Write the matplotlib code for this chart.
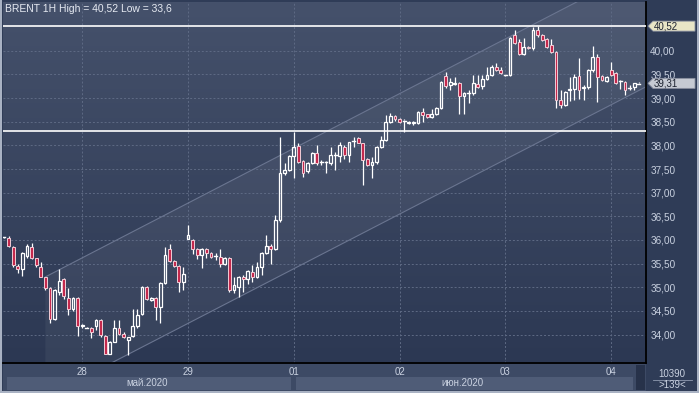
import numpy as np
import matplotlib
matplotlib.use('Agg')
import matplotlib.pyplot as plt
from matplotlib.patches import Rectangle, Polygon
from matplotlib.colors import LinearSegmentedColormap
from matplotlib.lines import Line2D

plt.rcParams['font.family'] = ['Liberation Sans', 'DejaVu Sans']

# ---------------- data (hourly candles, 139 bars) ----------------
opens = [36.06, 36.05, 35.86, 35.45, 35.38, 35.66, 35.86, 35.61, 35.43, 35.21,
         34.98, 34.34, 34.90, 35.17, 34.78, 34.55, 34.78, 34.18, 34.15, 34.15,
         34.18, 34.31, 33.97, 33.60, 33.85, 34.13, 34.02, 33.88, 33.97, 34.18,
         34.43, 35.00, 34.74, 34.78, 34.59, 35.10, 35.82, 35.56, 35.45, 35.12,
         36.03, 36.01, 35.82, 35.69, 35.80, 35.72, 35.66, 35.64, 35.50, 35.61,
         34.94, 35.01, 35.22, 35.17, 35.33, 35.22, 35.43, 35.73, 35.88, 35.82,
         36.43, 37.42, 37.48, 37.77, 37.98, 37.67, 37.46, 37.62, 37.84, 37.64,
         37.64, 37.63, 37.79, 37.77, 37.97, 37.79, 38.09, 38.15, 38.05, 37.72,
         37.58, 37.64, 37.96, 38.11, 38.50, 38.62, 38.55, 38.52, 38.48, 38.48,
         38.48, 38.71, 38.66, 38.59, 38.66, 38.78, 39.46, 39.27, 39.30, 39.32,
         39.04, 39.10, 39.10, 39.29, 39.26, 39.40, 39.48, 39.66, 39.60, 39.48,
         39.48, 40.33, 40.19, 39.93, 40.08, 40.05, 40.44, 40.33, 40.24, 40.12,
         39.98, 38.96, 38.85, 39.17, 39.20, 39.46, 39.22, 39.24, 39.59, 39.87,
         39.46, 39.36, 39.60, 39.52, 39.36, 39.34, 39.22, 39.24, 39.30]
highs = [36.07, 36.08, 35.88, 35.50, 35.75, 35.91, 35.93, 35.62, 35.53, 35.22,
         35.00, 34.96, 35.38, 35.20, 34.98, 34.80, 34.80, 34.22, 34.16, 34.16,
         34.33, 34.33, 34.00, 33.86, 34.31, 34.31, 34.05, 33.96, 34.55, 34.55,
         35.02, 35.02, 34.79, 34.80, 35.12, 35.86, 35.91, 35.58, 35.47, 35.43,
         36.31, 36.02, 35.84, 35.84, 35.84, 35.75, 35.73, 35.82, 35.63, 35.63,
         35.22, 35.24, 35.26, 35.36, 35.47, 35.54, 35.75, 36.10, 35.91, 36.52,
         38.18, 37.62, 37.80, 38.29, 38.04, 37.69, 37.64, 37.87, 38.00, 37.69,
         37.66, 37.97, 37.86, 38.07, 38.00, 38.08, 38.17, 38.18, 38.06, 37.74,
         37.75, 37.99, 38.20, 38.64, 38.69, 38.64, 38.57, 38.55, 38.52, 38.52,
         38.73, 38.78, 38.67, 38.76, 38.81, 39.36, 39.55, 39.43, 39.45, 39.34,
         39.13, 39.18, 39.48, 39.48, 39.48, 39.66, 39.69, 39.74, 39.66, 39.49,
         40.28, 40.44, 40.24, 40.26, 40.09, 40.50, 40.52, 40.35, 40.26, 40.24,
         40.00, 39.17, 39.15, 39.45, 39.50, 39.84, 39.27, 39.62, 40.10, 39.93,
         39.48, 39.46, 39.77, 39.54, 39.38, 39.36, 39.27, 39.32, 39.34]
lows = [36.05, 35.85, 35.42, 35.30, 35.24, 35.62, 35.60, 35.43, 35.21, 34.95,
        34.24, 34.30, 34.83, 34.76, 34.41, 34.50, 33.97, 34.15, 34.14, 33.92,
        34.10, 33.95, 33.58, 33.58, 33.84, 34.00, 33.92, 33.57, 33.95, 34.15,
        34.41, 34.74, 34.72, 34.31, 34.24, 35.08, 35.54, 35.43, 34.90, 34.94,
        36.02, 35.71, 35.60, 35.40, 35.61, 35.61, 35.57, 35.43, 35.48, 34.90,
        34.87, 34.80, 34.90, 35.08, 35.11, 35.20, 35.26, 35.71, 35.50, 35.78,
        36.38, 37.38, 37.45, 37.30, 37.63, 37.34, 37.41, 37.60, 37.58, 37.58,
        37.42, 37.58, 37.48, 37.65, 37.72, 37.65, 37.97, 38.04, 37.17, 37.56,
        37.30, 37.60, 37.95, 38.10, 38.48, 38.52, 38.47, 38.28, 38.46, 38.44,
        38.46, 38.50, 38.57, 38.57, 38.64, 38.76, 39.22, 39.18, 39.28, 38.67,
        38.67, 38.90, 39.06, 39.22, 39.20, 39.38, 39.46, 39.58, 39.50, 39.47,
        39.46, 40.15, 39.91, 39.90, 40.03, 40.02, 40.30, 40.20, 40.05, 39.96,
        38.78, 38.80, 38.83, 38.94, 38.96, 38.98, 38.96, 39.20, 39.55, 38.92,
        39.36, 39.34, 39.46, 39.30, 39.20, 39.06, 39.18, 39.18, 39.29]
closes = [36.06, 35.87, 35.47, 35.38, 35.72, 35.87, 35.62, 35.47, 35.22, 34.98,
          34.32, 34.94, 35.14, 34.81, 34.55, 34.78, 34.18, 34.20, 34.15, 34.05,
          34.31, 34.00, 33.60, 33.85, 34.13, 34.02, 33.94, 33.94, 34.18, 34.41,
          35.00, 34.76, 34.78, 34.59, 35.10, 35.68, 35.56, 35.45, 35.12, 35.28,
          36.10, 35.82, 35.69, 35.80, 35.73, 35.64, 35.67, 35.50, 35.61, 34.94,
          35.04, 35.22, 35.17, 35.35, 35.21, 35.43, 35.73, 35.88, 35.82, 36.43,
          37.42, 37.48, 37.77, 37.96, 37.65, 37.41, 37.62, 37.84, 37.63, 37.65,
          37.64, 37.79, 37.80, 38.00, 37.79, 38.07, 38.10, 38.05, 37.70, 37.58,
          37.64, 37.97, 38.11, 38.50, 38.62, 38.55, 38.50, 38.53, 38.50, 38.50,
          38.71, 38.64, 38.59, 38.66, 38.78, 39.34, 39.25, 39.34, 39.32, 39.04,
          39.10, 39.10, 39.31, 39.24, 39.40, 39.48, 39.66, 39.60, 39.53, 39.48,
          40.26, 40.17, 39.94, 40.08, 40.05, 40.44, 40.33, 40.22, 40.08, 39.98,
          38.96, 38.85, 39.13, 39.20, 39.44, 39.18, 39.24, 39.59, 39.87, 39.45,
          39.39, 39.44, 39.48, 39.32, 39.37, 39.18, 39.22, 39.31, 39.31]

day_tick_bars = [17, 40, 63, 86, 109, 132]
day_labels = ['28', '29', '01', '02', '03', '04']
month_labels = ['май.2020', 'июн.2020']
month_spans = [(-0.2, 62.5), (62.5, 136.8)]
y_ticks = [34.0, 34.5, 35.0, 35.5, 36.0, 36.5, 37.0, 37.5, 38.0, 38.5, 39.0, 39.5, 40.0]
level_lines = [40.52, 38.30]
last_price = 39.31
channel_x = [9.0, 139.6]
channel_upper = [35.22, 41.79]
channel_lower = [32.68, 39.24]
title_text = 'BRENT 1H High = 40,52 Low = 33,6'
volume_text = '10390'
bars_text = '>139<'

# ---------------- figure ----------------
W, H = 699, 393
fig = plt.figure(figsize=(W / 100, H / 100), dpi=100)
fig.patch.set_facecolor('#2f3c57')


def rect_px(x0, y0, x1, y1):
    return [x0 / W, 1 - y1 / H, (x1 - x0) / W, (y1 - y0) / H]


xmin, xmax = -0.22, 139.57
ymin, ymax = 33.40, 41.03

ax = fig.add_axes(rect_px(3, 2, 646, 363))
ax.set_xlim(xmin, xmax)
ax.set_ylim(ymin, ymax)

cmap = LinearSegmentedColormap.from_list('bg', ['#2c3853', '#45516b'])
ax.imshow(np.linspace(0, 1, 256).reshape(-1, 1), extent=[xmin, xmax, ymin, ymax],
          aspect='auto', cmap=cmap, origin='lower', zorder=0)

# channel band
poly = Polygon([(channel_x[0], channel_lower[0]), (channel_x[1], channel_lower[1]),
                (channel_x[1], channel_upper[1]), (channel_x[0], channel_upper[0])],
               closed=True, facecolor='white', alpha=0.05, edgecolor='none', zorder=1)
ax.add_patch(poly)
ax.plot(channel_x, channel_upper, color='#6a7590', lw=0.8, zorder=2)
ax.plot(channel_x, channel_lower, color='#6a7590', lw=0.8, zorder=2)

# grid
for yt in y_ticks:
    ax.axhline(yt, color='#5e6a84', lw=0.7, ls=(0, (2, 2)), zorder=1.5)
for xt in day_tick_bars:
    ax.axvline(xt, color='#5e6a84', lw=0.7, ls=(0, (2, 2)), zorder=1.5)

# level lines
for lv in level_lines:
    ax.axhline(lv, color='white', lw=1.2, zorder=3)

# candles
x = np.arange(len(opens))
bw = 0.62
for i in x:
    o, h, l, c = opens[i], highs[i], lows[i], closes[i]
    top, bot = max(o, c), min(o, c)
    ax.plot([i, i], [top, h], color='white', lw=0.9, zorder=4, solid_capstyle='butt')
    ax.plot([i, i], [l, bot], color='white', lw=0.9, zorder=4, solid_capstyle='butt')
    if top - bot < 0.02:
        ax.plot([i - bw / 2, i + bw / 2], [(top + bot) / 2] * 2, color='white', lw=1.0, zorder=5)
    elif c < o:
        ax.add_patch(Rectangle((i - bw / 2, bot), bw, top - bot, facecolor='#c4294d',
                               edgecolor='#f2ccd6', lw=0.7, zorder=5))
    else:
        ax.add_patch(Rectangle((i - bw / 2, bot), bw, top - bot, facecolor='none',
                               edgecolor='white', lw=0.9, zorder=5))

ax.yaxis.tick_right()
ax.set_yticks(y_ticks)
ax.set_yticklabels([f'{v:.2f}'.replace('.', ',') for v in y_ticks])
ax.tick_params(axis='y', length=0, pad=3, labelsize=7.2, labelcolor='#c9d1e0')
ax.set_xticks([])
for s in ['top', 'left']:
    ax.spines[s].set_visible(False)
ax.spines['right'].set_color('black')
ax.spines['right'].set_linewidth(1.3)
ax.spines['bottom'].set_color('black')
ax.spines['bottom'].set_linewidth(1.3)

# bottom time panel
axb = fig.add_axes(rect_px(3, 364, 646, 391))
axb.set_xlim(xmin, xmax)
axb.set_ylim(0, 1)
axb.axis('off')
axb.add_patch(Rectangle((xmin, 0), xmax - xmin, 1, facecolor='#3d4a65', edgecolor='none'))
for (a, b), lab in zip(month_spans, month_labels):
    axb.add_patch(Rectangle((a + 0.9, 0.04), b - a - 0.9, 0.48, facecolor='#4f5c77', edgecolor='none'))
    axb.text((a + b) / 2, 0.28, lab, ha='center', va='center', fontsize=7, color='#c9d1e0')
for xt, lab in zip(day_tick_bars, day_labels):
    axb.text(xt, 0.70, lab, ha='center', va='center', fontsize=7, color='#c9d1e0')
axb.add_patch(Rectangle((137.4, 0.04), 1.9, 0.92, facecolor='#27324a', edgecolor='none'))

# right-bottom counters
fig.text(672 / W, 1 - 374 / H, volume_text, ha='center', va='center', fontsize=7, color='#c9d1e0')
fig.text(672 / W, 1 - 385 / H, bars_text, ha='center', va='center', fontsize=7, color='#c9d1e0')
fig.add_artist(Line2D([653 / W, 692 / W], [1 - 379.5 / H] * 2, color='#8f9ab0', lw=0.6))

# outer frame
fig.add_artist(Rectangle((0, 0), 2 / W, 1, transform=fig.transFigure, facecolor='#a9b2c3', edgecolor='none'))
fig.add_artist(Rectangle((0, 0), 1, 2.5 / H, transform=fig.transFigure, facecolor='#a9b2c3', edgecolor='none'))
fig.add_artist(Rectangle((1 - 2 / W, 0), 2 / W, 1, transform=fig.transFigure, facecolor='#a9b2c3', edgecolor='none'))

# title
fig.text(5 / W, 1 - 9 / H, title_text, ha='left', va='center', fontsize=7.5, color='#e6eaf2')

# price tags
fig.canvas.draw()


def tag(level, face, text):
    yp = ax.transData.transform((0, level))[1]
    xs = [648, 653, 695, 695, 653]
    ys = [yp, yp + 5, yp + 5, yp - 5, yp - 5]
    fig.add_artist(Polygon(list(zip(xs, ys)), closed=True, transform=None,
                           facecolor=face, edgecolor='#8a90a0', lw=0.6, zorder=10))
    fig.text(654 / W, yp / H, text, ha='left', va='center', fontsize=7, color='#1c2230', zorder=11)


tag(level_lines[0], '#e8e5c6', f'{level_lines[0]:.2f}'.replace('.', ','))
tag(last_price, '#c6cad3', f'{last_price:.2f}'.replace('.', ','))

fig.savefig('out.png', dpi=100, facecolor=fig.get_facecolor())
